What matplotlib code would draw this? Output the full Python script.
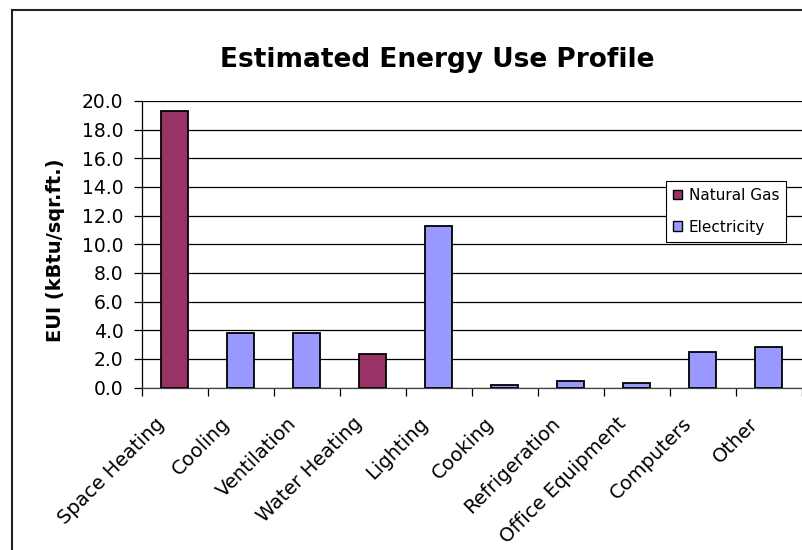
import matplotlib.pyplot as plt
from matplotlib.patches import Patch
from matplotlib.lines import Line2D
from matplotlib.transforms import ScaledTranslation
import numpy as np

plt.rcParams['font.family'] = ['DejaVu Sans']

categories = ['Space Heating', 'Cooling', 'Ventilation', 'Water Heating', 'Lighting',
              'Cooking', 'Refrigeration', 'Office Equipment', 'Computers', 'Other']
eui = [19.27, 3.8, 3.8, 2.35, 11.28, 0.16, 0.46, 0.33, 2.45, 2.84]
source = ['Natural Gas', 'Electricity', 'Electricity', 'Natural Gas', 'Electricity',
          'Electricity', 'Electricity', 'Electricity', 'Electricity', 'Electricity']
yticks = [0, 2, 4, 6, 8, 10, 12, 14, 16, 18, 20]

colors = {'Natural Gas': '#993366', 'Electricity': '#9999FF'}

fig = plt.figure(figsize=(8.02, 5.5), dpi=100)
ax = fig.add_axes([141.5 / 802, 162.5 / 550, 660 / 802, 286.5 / 550])

x = np.arange(len(categories))
ax.bar(x, eui, width=0.42, color=[colors[s] for s in source],
       edgecolor='black', linewidth=1.3, zorder=3)

ax.set_xlim(-0.5, len(categories) - 0.5)
ax.set_ylim(0, 20)
ax.set_yticks(yticks)
ax.set_yticklabels(['%.1f' % v for v in yticks], fontsize=13.5)
ax.yaxis.grid(True, color='black', linewidth=0.9, zorder=0)
ax.tick_params(axis='y', direction='out', length=6, width=0.9, pad=7)

# category labels, rotated and nudged left like the original
ax.set_xticks(x)
ax.set_xticklabels(categories, rotation=45, ha='right', va='top',
                   rotation_mode='anchor', fontsize=14)
ax.tick_params(axis='x', which='major', length=0, pad=19)
shift = ScaledTranslation(-20 / 100, 0, fig.dpi_scale_trans)
for lab in ax.get_xticklabels():
    lab.set_transform(lab.get_transform() + shift)
ax.set_xticks(np.arange(-0.5, len(categories) + 0.5, 1), minor=True)
ax.tick_params(axis='x', which='minor', direction='out', length=6, width=0.9)

for s in ['top', 'right']:
    ax.spines[s].set_visible(False)
ax.spines['left'].set_linewidth(0.9)
ax.spines['bottom'].set_linewidth(0.9)
ax.spines['bottom'].set_color('#444444')

fig.text(56 / 802, 1 - 250 / 550, 'EUI (kBtu/sqr.ft.)', fontsize=14, fontweight='bold',
         rotation=90, ha='center', va='center')
fig.text(437 / 802, 1 - 60 / 550, 'Estimated Energy Use Profile', fontsize=19,
         fontweight='bold', ha='center', va='center')

handles = [Patch(facecolor=colors[k], edgecolor='black', linewidth=1.0) for k in ['Natural Gas', 'Electricity']]
leg = ax.legend(handles, ['Natural Gas', 'Electricity'], loc='upper right',
                bbox_to_anchor=((786 - 141.5) / 660, (387.5 - 181) / 286.5),
                fontsize=11, fancybox=False, framealpha=1, edgecolor='black',
                handlelength=0.6, handleheight=0.6, handletextpad=0.45,
                borderpad=0.45, labelspacing=1.1, borderaxespad=0)
leg.get_frame().set_linewidth(0.8)
leg.set_zorder(5)

# outer chart border (cut off at right and bottom)
fig.add_artist(Line2D([12 / 802, 12 / 802], [0, 1 - 10 / 550], color='#222222', linewidth=1.5))
fig.add_artist(Line2D([12 / 802, 1], [1 - 10 / 550, 1 - 10 / 550], color='#222222', linewidth=1.5))

fig.savefig('out.png', dpi=100)
